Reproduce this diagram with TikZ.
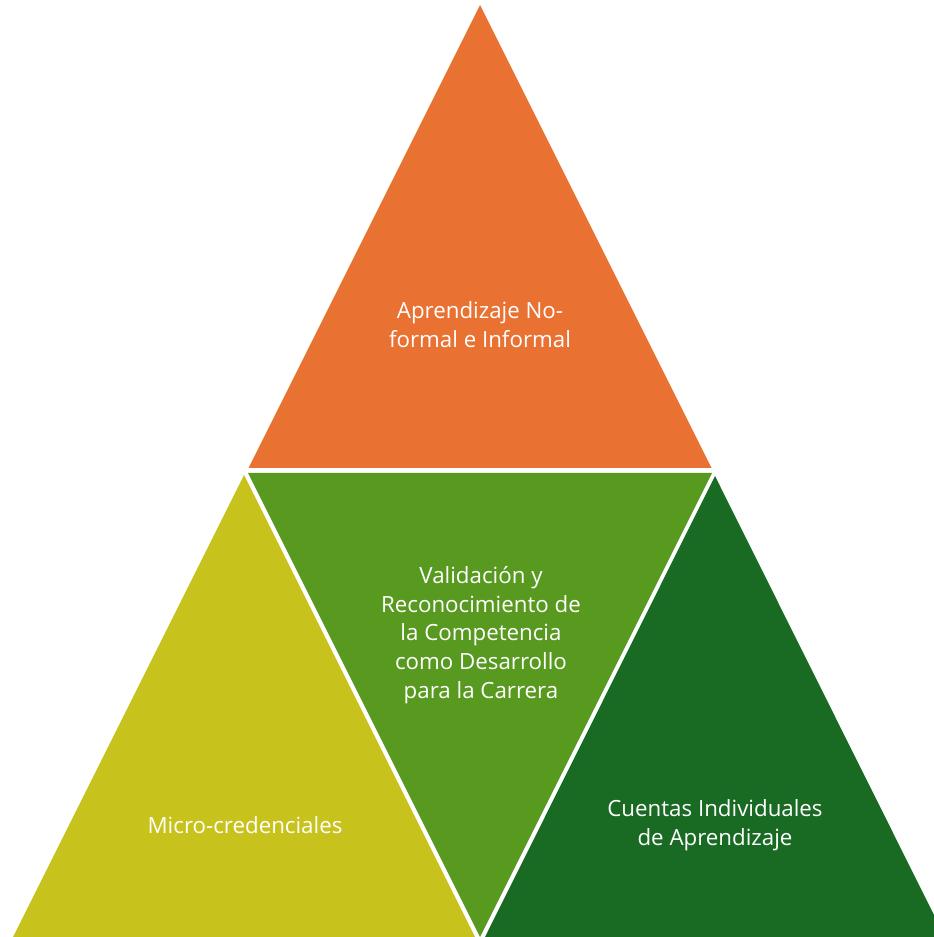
\documentclass[tikz,border=0pt]{standalone}
\usepackage{fontspec}
\setmainfont{Open Sans}
\definecolor{cOrange}{HTML}{E97132}
\definecolor{cYellow}{HTML}{C8C21D}
\definecolor{cGreen}{HTML}{58991F}
\definecolor{cDark}{HTML}{196B24}
\begin{document}
\begin{tikzpicture}[x=1pt,y=1pt,
  lbl/.style={text=white,align=center,font=\fontsize{22.3}{28.6}\selectfont,inner sep=0pt}]
\useasboundingbox (0,0) rectangle (934,937);
\clip (0,0) rectangle (934,937);
% top
\fill[cOrange] (480,932) -- (248.5,469) -- (711.5,469) -- cycle;
% middle inverted
\fill[cGreen] (248,464) -- (712,464) -- (480,0) -- cycle;
% left
\fill[cYellow] (244,462) -- (13,0) -- (475,0) -- cycle;
% right
\fill[cDark] (715,461) -- (485,0) -- (945,0) -- cycle;
\node[lbl] (top) at (480,612.5) {Aprendizaje No-\\formal e Informal};
\node[lbl] (mid) at (481,302) {Validación y\\Reconocimiento de\\la Competencia\\como Desarrollo\\para la Carrera};
\node[lbl] (left) at (245,112) {Micro-credenciales};
\node[lbl] (right) at (715,112) {Cuentas Individuales\\de Aprendizaje};
\end{tikzpicture}
\end{document}
